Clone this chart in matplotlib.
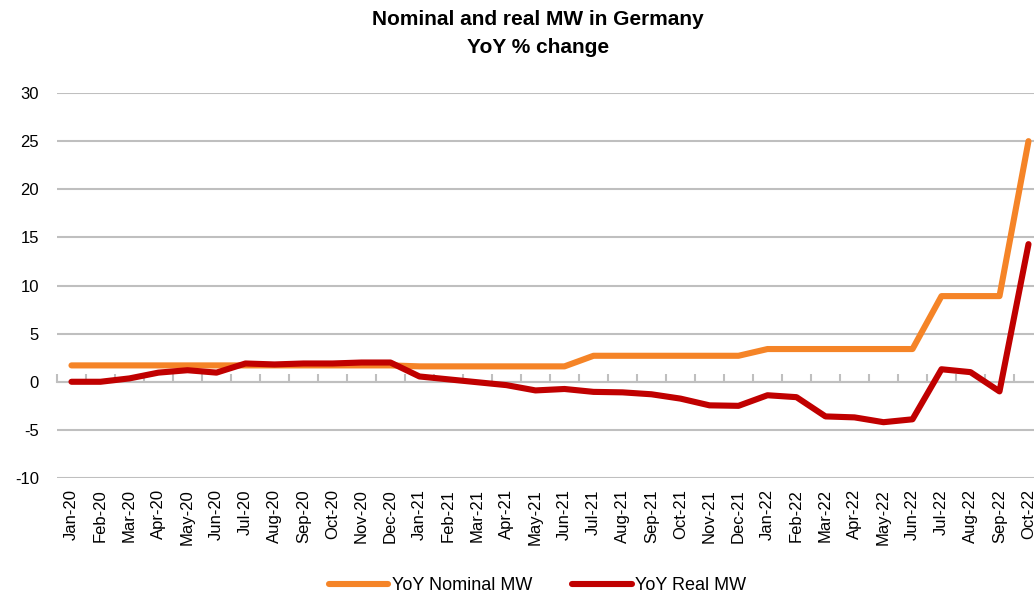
import numpy as np
import matplotlib
matplotlib.use("Agg")
import matplotlib.pyplot as plt

months = ["Jan-20", "Feb-20", "Mar-20", "Apr-20", "May-20", "Jun-20", "Jul-20", "Aug-20",
          "Sep-20", "Oct-20", "Nov-20", "Dec-20", "Jan-21", "Feb-21", "Mar-21", "Apr-21",
          "May-21", "Jun-21", "Jul-21", "Aug-21", "Sep-21", "Oct-21", "Nov-21", "Dec-21",
          "Jan-22", "Feb-22", "Mar-22", "Apr-22", "May-22", "Jun-22", "Jul-22", "Aug-22",
          "Sep-22", "Oct-22"]

nominal = [1.7] * 12 + [1.6] * 6 + [2.7] * 6 + [3.4] * 6 + [8.9, 8.9, 8.9, 25.0]

real = [0.0, 0.0, 0.35, 0.95, 1.2, 0.95, 1.9, 1.8, 1.9, 1.9, 2.0, 2.0,
        0.55, 0.25, -0.05, -0.35, -0.9, -0.75, -1.05, -1.1, -1.3, -1.75, -2.45, -2.5,
        -1.4, -1.6, -3.6, -3.7, -4.2, -3.9, 1.3, 1.0, -1.0, 14.3]

plt.rcParams['font.family'] = ['Liberation Sans', 'DejaVu Sans']
plt.rcParams['axes.unicode_minus'] = False

fig = plt.figure(figsize=(10.34, 5.97), dpi=100)
ax = fig.add_axes([0.0551, 0.1993, 0.9536, 0.6449])

x = np.arange(len(months))
ax.plot(x, nominal, color="#F58427", linewidth=4.4, solid_capstyle="round", label="YoY Nominal MW", zorder=3)
ax.plot(x, real, color="#C00000", linewidth=4.4, solid_capstyle="round", label="YoY Real MW", zorder=4)

ax.set_xlim(-0.5, len(months) - 0.5)
ax.set_ylim(-10, 30)
ax.set_yticks(np.arange(-10, 31, 5))
ax.tick_params(axis="y", length=0, pad=13, labelsize=12)
ax.yaxis.grid(True, color="#BFBFBF", linewidth=1.5)
ax.set_axisbelow(True)

for s in ["top", "right", "left"]:
    ax.spines[s].set_visible(False)
ax.spines["bottom"].set_position(("data", 0))
ax.spines["bottom"].set_color("#BFBFBF")
ax.spines["bottom"].set_linewidth(1.5)
ax.set_xticks(np.arange(-0.5, len(months), 1))
ax.set_xticklabels([])
ax.tick_params(axis="x", direction="in", length=6, width=1.5, color="#BFBFBF")

sec = ax.secondary_xaxis(0.0)
sec.set_xticks(x)
sec.set_xticklabels(months, rotation=90, fontsize=12)
sec.tick_params(length=0, pad=8)
sec.spines["bottom"].set_visible(False)

fig.text(0.52, 0.984, "Nominal and real MW in Germany\nYoY % change", ha="center", va="top",
         fontsize=15, fontweight="bold", linespacing=1.6)

fig.legend(loc="lower center", bbox_to_anchor=(0.52, -0.022), ncol=2, frameon=False,
           fontsize=13, handlelength=3.3, handletextpad=0.2, columnspacing=2.2)

fig.savefig("out.png", dpi=100)
